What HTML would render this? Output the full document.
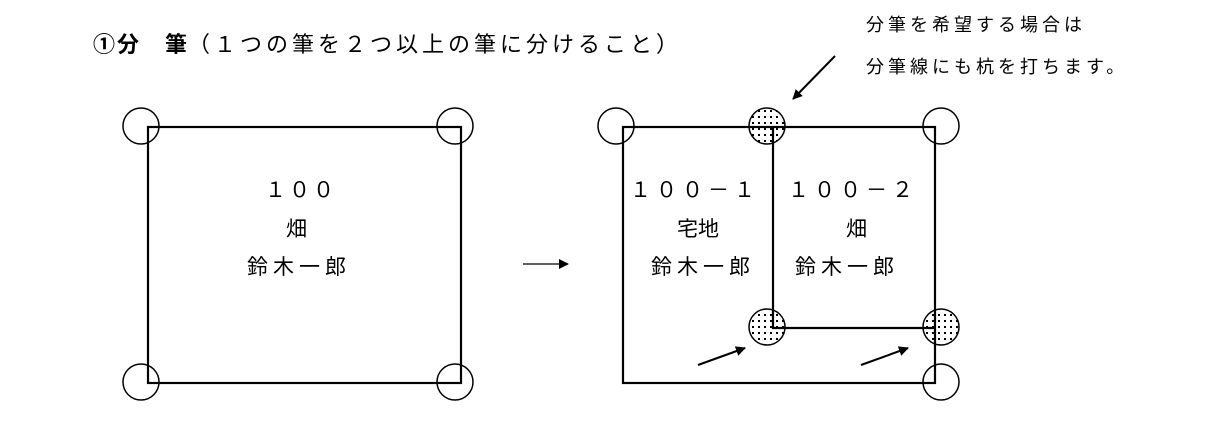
<!DOCTYPE html>
<html><head><meta charset="utf-8"><style>
html,body{margin:0;padding:0;background:#fff;}
svg{display:block;}
text{font-family:"Liberation Sans","Noto Sans CJK JP",sans-serif;fill:#000;}
</style></head><body>
<svg width="1212" height="432" viewBox="0 0 1212 432" xmlns="http://www.w3.org/2000/svg">
<defs>
<pattern id="dots" width="6" height="6" patternUnits="userSpaceOnUse">
<rect width="6" height="6" fill="#fff"/>
<rect x="2" y="2" width="2" height="2" fill="#000"/>
</pattern>
<marker id="ah" markerWidth="10" markerHeight="10" refX="9" refY="5" orient="auto" markerUnits="userSpaceOnUse">
<path d="M0,0 L10,5 L0,10 z" fill="#000"/>
</marker>
</defs>
<text x="93" y="52" font-size="22" font-weight="bold" letter-spacing="2">①分　筆</text>
<text x="188" y="52" font-size="22" letter-spacing="4">（１つの筆を２つ以上の筆に分けること）</text>
<text x="866" y="31" font-size="18" letter-spacing="4">分筆を希望する場合は</text>
<text x="866" y="73" font-size="18" letter-spacing="4">分筆線にも杭を打ちます。</text>

<g fill="none" stroke="#000" stroke-width="1.5">
<circle cx="141" cy="126" r="18"/><circle cx="455" cy="126" r="18"/>
<circle cx="141" cy="382" r="18"/><circle cx="455" cy="382" r="18"/>
<circle cx="616" cy="126" r="18"/><circle cx="941" cy="126" r="18"/>
<circle cx="941" cy="382" r="18"/>
</g>
<g stroke="#000" stroke-width="1.5" fill="url(#dots)">
<circle cx="767" cy="126" r="18"/><circle cx="767" cy="327" r="18"/><circle cx="941" cy="327" r="18"/>
</g>
<g fill="none" stroke="#000" stroke-width="2.2">
<rect x="148" y="127" width="313" height="256"/>
<rect x="623" y="127" width="312" height="256"/>
<polyline points="773,127 773,328 935,328"/>
</g>
<g stroke="#000" stroke-width="2" marker-end="url(#ah)">
<line x1="835" y1="56" x2="793" y2="99"/>
<line x1="698" y1="365" x2="745" y2="348"/>
<line x1="861" y1="365" x2="908" y2="348"/>
</g>
<line x1="523" y1="264" x2="568" y2="264" stroke="#000" stroke-width="1.2" marker-end="url(#ah)"/>

<g font-size="21">
<text x="265" y="197" letter-spacing="3">１００</text>
<text x="286" y="236">畑</text>
<text x="247" y="274" letter-spacing="5">鈴木一郎</text>
<text x="630" y="197" letter-spacing="5">１００－１</text>
<text x="677" y="236">宅地</text>
<text x="651" y="274" letter-spacing="5">鈴木一郎</text>
<text x="788" y="197" letter-spacing="5">１００－２</text>
<text x="846" y="236">畑</text>
<text x="795" y="274" letter-spacing="5">鈴木一郎</text>
</g>
</svg>
</body></html>
